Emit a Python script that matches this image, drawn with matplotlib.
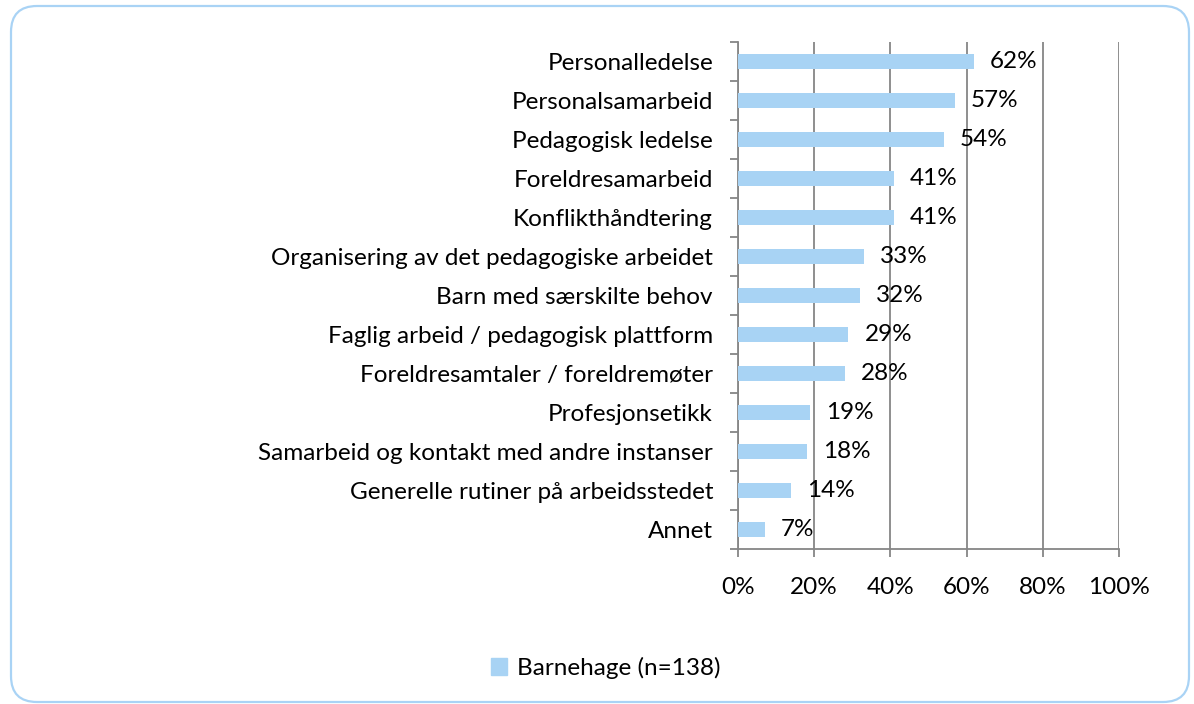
import matplotlib.pyplot as plt
from matplotlib.patches import FancyBboxPatch
from matplotlib.ticker import FixedLocator, NullFormatter
import numpy as np

categories = ['Personalledelse', 'Personalsamarbeid', 'Pedagogisk ledelse',
              'Foreldresamarbeid', 'Konflikthåndtering',
              'Organisering av det pedagogiske arbeidet',
              'Barn med særskilte behov',
              'Faglig arbeid / pedagogisk plattform',
              'Foreldresamtaler / foreldremøter', 'Profesjonsetikk',
              'Samarbeid og kontakt med andre instanser',
              'Generelle rutiner på arbeidsstedet', 'Annet']
values = [62, 57, 54, 41, 41, 33, 32, 29, 28, 19, 18, 14, 7]
xticks = [0, 20, 40, 60, 80, 100]
series_name = 'Barnehage (n=138)'

bar_color = '#A8D3F4'
grid_color = '#868686'
plt.rcParams['font.family'] = ['Lato', 'DejaVu Sans']
fs = 17.5

W, H = 1194, 704
fig = plt.figure(figsize=(W / 100, H / 100), dpi=100)

# rounded frame around the chart, drawn in pixel units
bg = fig.add_axes([0, 0, 1, 1])
bg.set_xlim(0, W)
bg.set_ylim(H, 0)
bg.axis('off')
bg.add_patch(FancyBboxPatch((11, 6), 1178, 696,
                            boxstyle='round,pad=0,rounding_size=26',
                            fill=False, edgecolor='#A9D3F5', linewidth=1.6))

ax = fig.add_axes([738 / W, 1 - 549 / H, (1119 - 738) / W, (549 - 42) / H])
y = np.arange(len(categories))
ax.barh(y, values, height=0.4, color=bar_color, zorder=3)
for yi, v in zip(y, values):
    ax.annotate(f'{v}%', (v, yi), xytext=(11.5, 0), textcoords='offset points',
                va='center', ha='left', fontsize=fs, zorder=4)

ax.set_xlim(0, 100)
ax.set_ylim(len(categories) - 0.5, -0.5)
ax.set_xticks(xticks)
ax.set_xticklabels([f'{t}%' for t in xticks], fontsize=fs)
ax.set_yticks(y)
ax.set_yticklabels(categories, fontsize=fs)
ax.tick_params(axis='y', length=0, pad=18)
ax.yaxis.set_minor_locator(FixedLocator(np.arange(-0.5, len(categories), 1)))
ax.yaxis.set_minor_formatter(NullFormatter())
ax.tick_params(axis='y', which='minor', length=6, color=grid_color, width=1.3)
ax.tick_params(axis='x', length=6, color=grid_color, width=1.3, pad=14)
ax.grid(axis='x', color=grid_color, linewidth=1.3, zorder=0)
for s in ['top', 'right']:
    ax.spines[s].set_visible(False)
for s in ['left', 'bottom']:
    ax.spines[s].set_color(grid_color)
    ax.spines[s].set_linewidth(1.3)

handle = plt.Rectangle((0, 0), 1, 1, color=bar_color)
fig.legend([handle], [series_name], loc='center', bbox_to_anchor=(606 / W, 1 - 668 / H),
           frameon=False, fontsize=fs, handlelength=0.65, handleheight=0.65,
           handletextpad=0.4)

fig.savefig('out.png', dpi=100)
